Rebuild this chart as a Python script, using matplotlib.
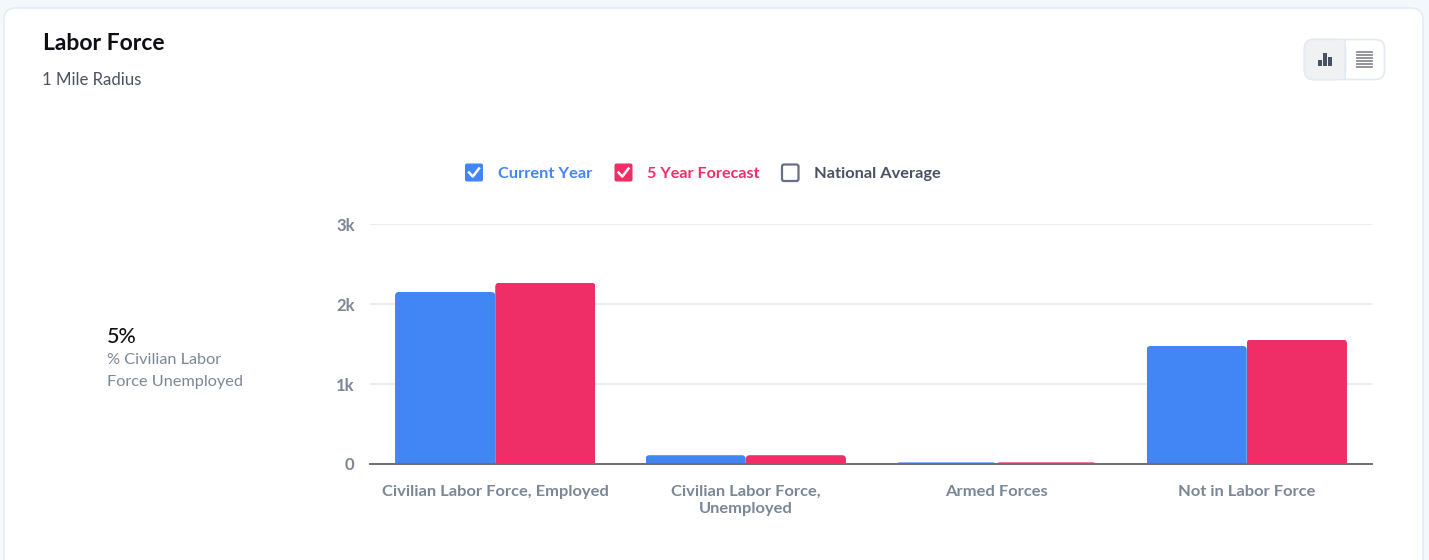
import matplotlib
matplotlib.use("Agg")
import matplotlib.pyplot as plt
from matplotlib.patches import FancyBboxPatch, Rectangle
from matplotlib.path import Path
from matplotlib.transforms import IdentityTransform

plt.rcParams['font.family'] = ['Lato', 'DejaVu Sans']

categories = ["Civilian Labor Force, Employed", "Civilian Labor Force,\nUnemployed", "Armed Forces", "Not in Labor Force"]
current_year = [2150, 110, 20, 1475]
five_year = [2265, 110, 20, 1555]
y_ticks = [0, 1000, 2000, 3000]
y_labels = ["0", "1k", "2k", "3k"]

blue = "#4285f4"
red = "#ef2d66"
grey = "#7b8794"
dark = "#4a5160"

W, H = 1429, 560
fig = plt.figure(figsize=(W / 100, H / 100), dpi=100, facecolor="#f3f8fc")

# page furniture is drawn in pixel coordinates
bg = fig.add_axes([0, 0, 1, 1])
bg.set_xlim(0, W)
bg.set_ylim(H, 0)
bg.axis("off")


def box(x, y, w, h, r, fc, ec="none", lw=1.0):
    p = FancyBboxPatch((x + r, y + r), w - 2 * r, h - 2 * r, boxstyle="round,pad=%f,rounding_size=%f" % (r, r),
                       fc=fc, ec=ec, lw=lw)
    bg.add_patch(p)
    return p


box(4, 8, 1419, 600, 12, "white", "#e3edf5", 1.2)

bg.text(43, 44, "Labor Force", fontsize=16.5, fontweight="bold", color="#0d0f14", va="center")
bg.text(42, 80, "1 Mile Radius", fontsize=12.1, color=dark, va="center")

bg.text(107, 337, "5%", fontsize=15.5, fontweight="medium", color="#0d0f14", va="center")
bg.text(107, 360, "% Civilian Labor", fontsize=11.7, color=grey, va="center")
bg.text(107, 382, "Force Unemployed", fontsize=11.7, color=grey, va="center")

# toggle, top right
box(1304.5, 39.5, 80, 40, 9, "white", "#e3eaf2", 1.2)
box(1304.5, 39.5, 41, 40, 9, "#f0f1f3", "#e3eaf2", 1.2)
bg.add_patch(Rectangle((1334, 40), 11, 39, fc="#f0f1f3", ec="none"))
bg.plot([1345.5, 1345.5], [40, 79], color="#e3eaf2", lw=1.2)
for bx, bt in [(1318, 60), (1323, 53), (1328, 57)]:
    bg.add_patch(Rectangle((bx, bt), 4, 66 - bt, fc=dark, ec="none"))
for ly in range(52, 68, 3):
    bg.plot([1357, 1372], [ly, ly], color="#8a8c90", lw=1.3)

# legend
legend_items = [(465, 498.5, "Current Year", blue, True, 11.8), (614.5, 647, "5 Year Forecast", red, True, 11.6),
                (781.5, 814, "National Average", dark, False, 11.8)]
for bx, tx, label, col, checked, fs in legend_items:
    if checked:
        box(bx, 163.5, 18, 18, 2, col)
        bg.plot([bx + 4, bx + 7.8, bx + 14], [172.5, 176.5, 168.5], color="white", lw=1.8)
    else:
        box(bx + 0.5, 164.5, 16.5, 16.5, 2, "white", "#667085", 1.6)
    bg.text(tx, 174, label, fontsize=fs, fontweight="bold", color=col, va="center")

# chart
ax = fig.add_axes([370 / W, 1 - 464 / H, 1002 / W, 240 / H])
ax.set_facecolor("none")
ax.set_xlim(-0.5, 3.5)
ax.set_ylim(0, 3000)
for s in ax.spines.values():
    s.set_visible(False)
ax.spines["bottom"].set_visible(True)
ax.spines["bottom"].set_color("#6b6f76")
ax.spines["bottom"].set_linewidth(1.4)
ax.set_axisbelow(True)
ax.grid(axis="y", color="#e8ebee", lw=1.2)
ax.set_yticks(y_ticks)
ax.set_yticklabels(y_labels, fontsize=12, fontweight="bold", color=grey)
ax.set_xticks(range(len(categories)))
ax.set_xticklabels(categories, fontsize=11.85, fontweight="bold", color=grey, linespacing=1.3)
ax.tick_params(axis="both", length=0)
ax.tick_params(axis="y", pad=11)
ax.tick_params(axis="x", pad=15)

xs = list(range(len(categories)))
b1 = ax.bar([x - 0.2 for x in xs], current_year, width=0.4, color=blue)
b2 = ax.bar([x + 0.2 for x in xs], five_year, width=0.4, color=red)

# round the top corners of the bars with a clip path
fig.canvas.draw()
r = 4
for rect in list(b1) + list(b2):
    e = rect.get_window_extent()
    x0, x1, y0, y1 = e.x0, e.x1, e.y0 - 2, e.y1
    k = min(r, y1 - y0)
    clip = Path([(x0, y0), (x0, y1 - k), (x0, y1), (x0 + k, y1), (x1 - k, y1), (x1, y1), (x1, y1 - k), (x1, y0), (x0, y0)],
                [Path.MOVETO, Path.LINETO, Path.CURVE3, Path.CURVE3, Path.LINETO, Path.CURVE3, Path.CURVE3, Path.LINETO,
                 Path.CLOSEPOLY])
    rect.set_clip_path(clip, IdentityTransform())

fig.savefig("out.png", dpi=100, facecolor=fig.get_facecolor())
